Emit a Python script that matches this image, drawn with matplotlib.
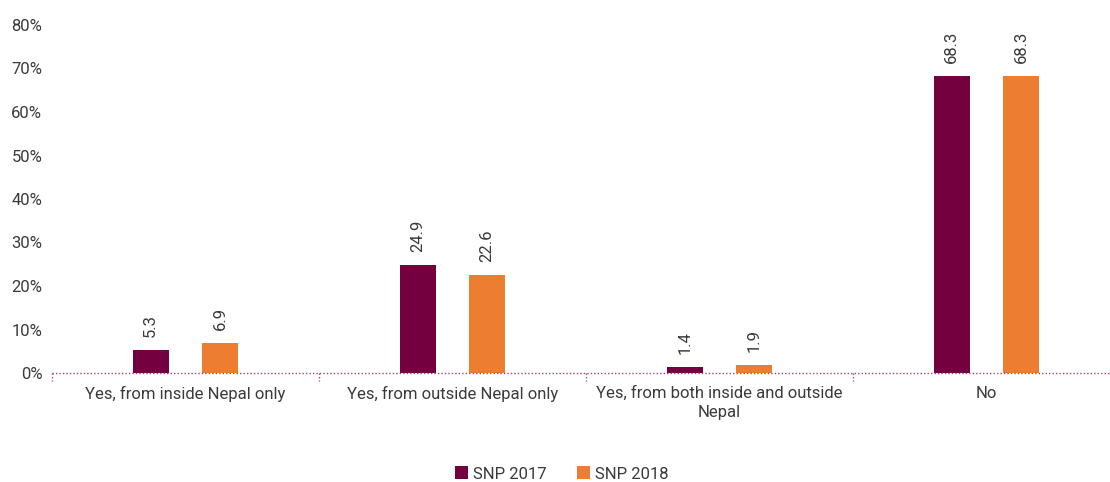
import matplotlib.pyplot as plt
import numpy as np

categories = ["Yes, from inside Nepal only", "Yes, from outside Nepal only",
              "Yes, from both inside and outside\nNepal", "No"]
snp_2017 = [5.3, 24.9, 1.4, 68.3]
snp_2018 = [6.9, 22.6, 1.9, 68.3]
series_names = ["SNP 2017", "SNP 2018"]
yticks = [0, 10, 20, 30, 40, 50, 60, 70, 80]

c17 = "#74003F"
c18 = "#ED7D31"
txt = "#3a3a3a"

plt.rcParams['font.family'] = ['Roboto', 'DejaVu Sans']

fig = plt.figure(figsize=(11.1, 4.82), dpi=100)
ax = fig.add_axes([52 / 1110, 109 / 482, 1058 / 1110, 348 / 482])

x = np.arange(len(categories))
w = 0.135
off = 0.13
b1 = ax.bar(x - off, snp_2017, w, color=c17, label=series_names[0])
b2 = ax.bar(x + off, snp_2018, w, color=c18, label=series_names[1])

for bars, vals in [(b1, snp_2017), (b2, snp_2018)]:
    for r, v in zip(bars, vals):
        ax.text(r.get_x() + r.get_width() / 2, v + 3.0, f"{v:.1f}", rotation=90,
                ha='center', va='bottom', fontsize=12, color=txt)

ax.set_ylim(0, 80)
ax.set_xlim(-0.5, 3.5 - 10 / 267)
ax.set_yticks(yticks)
ax.set_yticklabels([f"{t}%" for t in yticks], fontsize=12, color=txt)
ax.tick_params(axis='y', length=0, pad=7)
ax.set_xticks(x)
ax.set_xticklabels(categories, fontsize=12, color=txt, linespacing=1.35)
ax.tick_params(axis='x', length=0, pad=9)

for s in ['top', 'right', 'left', 'bottom']:
    ax.spines[s].set_visible(False)
ax.axhline(0, color="#A0457A", lw=1, ls=(0, (1, 1.5)), clip_on=False)
for bx in [-0.5, 0.5, 1.5, 2.5]:
    ax.plot([bx, bx], [0, -1.8], color="#A0457A", lw=1, ls=(0, (1, 1.5)), clip_on=False)

ax.legend(loc='lower center', bbox_to_anchor=(0.5 - 40 / 1110 / 2, -0.355), ncol=2, frameon=False,
          fontsize=12, handlelength=0.8, handleheight=0.8, columnspacing=1.8, handletextpad=0.3,
          labelcolor=txt)

fig.savefig("out.png", dpi=100)
